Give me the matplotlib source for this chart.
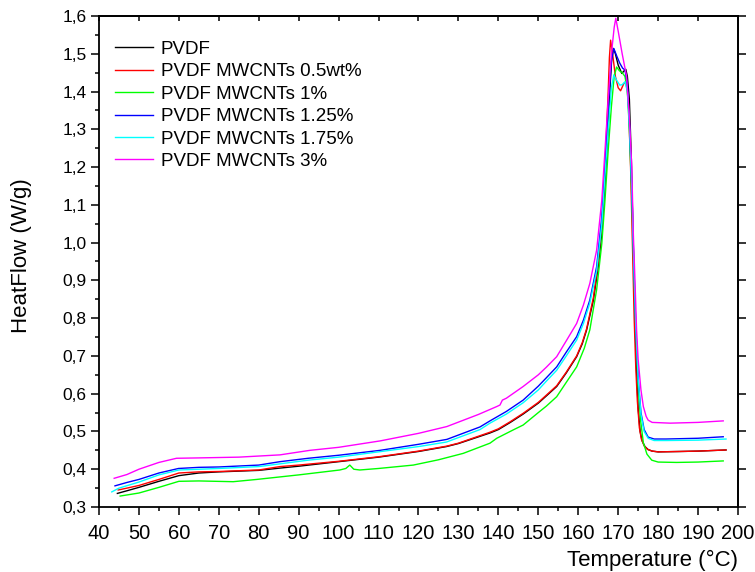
import matplotlib
matplotlib.use("Agg")
import matplotlib.pyplot as plt
from matplotlib.ticker import MultipleLocator, FuncFormatter

plt.rcParams['font.family'] = ['Liberation Sans', 'DejaVu Sans']

# DSC heating curves, temperature (C) vs heat flow (W/g)
t_pvdf = [44.6, 47, 50, 55, 60, 65, 70, 80, 85.3, 90, 100, 110, 120, 127, 130, 137.9, 140, 143, 146.2, 150,
          152, 154.6, 157, 159.6, 161, 162.1, 163.8, 165, 165.9, 166.7, 167.5, 168, 168.4, 168.8, 169.3, 170,
          170.9, 171.5, 171.9, 172.3, 172.8, 173.3, 173.8, 174.2, 174.6, 175, 175.5, 176, 176.7, 177.5,
          178.5, 180, 185.5, 190, 197]
hf_pvdf = [0.336, 0.343, 0.352, 0.368, 0.383, 0.390, 0.393, 0.397, 0.403, 0.408, 0.420, 0.432, 0.447,
           0.460, 0.468, 0.496, 0.505, 0.524, 0.546, 0.575, 0.594, 0.619, 0.655, 0.698, 0.732, 0.769, 0.848,
           0.936, 1.025, 1.157, 1.30, 1.42, 1.49, 1.514, 1.50, 1.47, 1.448, 1.455, 1.459, 1.44, 1.38, 1.22,
           0.98, 0.80, 0.66, 0.56, 0.50, 0.475, 0.46, 0.452, 0.448, 0.446, 0.447, 0.448, 0.451]

t_05 = [44.8, 47, 50, 55, 60, 65, 70, 80, 85.3, 90, 100, 110, 120, 127, 130, 137.9, 140, 143, 146.2, 150,
        152, 154.6, 157, 159.6, 161, 162.1, 163.8, 165, 165.9, 166.7, 167.5, 167.8, 168.1, 168.6, 169.3, 170,
        170.6, 171.4, 172.1, 172.6, 173.1, 173.6, 174, 174.4, 174.8, 175.3, 175.8, 176.5, 177.3, 178.5,
        180, 185.5, 190, 197]
hf_05 = [0.345, 0.350, 0.357, 0.373, 0.390, 0.393, 0.394, 0.398, 0.407, 0.411, 0.421, 0.433, 0.448,
         0.461, 0.469, 0.498, 0.507, 0.526, 0.548, 0.577, 0.596, 0.621, 0.657, 0.700, 0.735, 0.772, 0.855,
         0.950, 1.05, 1.20, 1.40, 1.49, 1.536, 1.50, 1.44, 1.41, 1.402, 1.421, 1.426, 1.36, 1.20, 0.98,
         0.80, 0.67, 0.58, 0.51, 0.48, 0.462, 0.453, 0.448, 0.446, 0.447, 0.448, 0.451]

t_1 = [45.3, 50, 55, 60, 65, 73.6, 79.5, 90, 100.3, 101.8, 102.8, 103.8, 105.3, 110, 118.7, 125, 131.2,
       137.9, 139.6, 143.7, 146.2, 150, 152, 154.6, 157, 159.6, 161.5, 162.9, 164.6, 165.9, 166.7, 167.5,
       168.3, 169, 169.6, 170.3, 171, 171.7, 172.3, 172.8, 173.4, 174, 174.5, 175, 175.6, 176.3, 177.2,
       178.4, 180, 184.6, 190, 196.3]
hf_1 = [0.329, 0.337, 0.352, 0.368, 0.369, 0.367, 0.373, 0.385, 0.398, 0.402, 0.411, 0.400, 0.398, 0.402,
        0.411, 0.425, 0.442, 0.469, 0.482, 0.504, 0.517, 0.550, 0.567, 0.592, 0.630, 0.671, 0.720, 0.769,
        0.875, 0.998, 1.113, 1.245, 1.36, 1.44, 1.465, 1.455, 1.45, 1.44, 1.40, 1.30, 1.12, 0.90, 0.75,
        0.62, 0.53, 0.47, 0.44, 0.424, 0.419, 0.418, 0.419, 0.422]

t_125 = [44, 47, 50, 55, 59.9, 65, 70, 80, 85.3, 92.4, 100, 110.4, 120, 127.1, 135.4, 137.9, 142, 146.2,
         150, 152, 154.6, 157, 159.6, 161.3, 162.9, 164.6, 165.9, 166.7, 167.5, 168.3, 168.9, 169.6, 170.4,
         171.1, 171.7, 172.3, 172.8, 173.4, 173.9, 174.4, 175, 175.7, 176.5, 177.5, 179, 182, 190, 196.3]
hf_125 = [0.356, 0.365, 0.373, 0.390, 0.402, 0.405, 0.406, 0.411, 0.420, 0.429, 0.437, 0.450, 0.466,
          0.479, 0.512, 0.528, 0.553, 0.583, 0.620, 0.642, 0.671, 0.710, 0.751, 0.795, 0.848, 0.936, 1.069,
          1.20, 1.36, 1.48, 1.514, 1.495, 1.475, 1.462, 1.457, 1.42, 1.32, 1.15, 0.95, 0.78, 0.64, 0.55,
          0.505, 0.485, 0.48, 0.48, 0.482, 0.486]

t_175 = [43.2, 45, 50, 55, 60, 70, 80, 92.4, 100, 110, 120, 127, 135.4, 137.9, 142, 146.2, 150, 152, 154.6,
         157, 159.6, 161.3, 162.9, 164.6, 165.9, 166.7, 167.5, 168.3, 168.9, 169.6, 170.4, 171, 171.7,
         172.3, 172.8, 173.4, 173.9, 174.4, 175, 175.7, 176.5, 177.5, 179, 182, 190, 197]
hf_175 = [0.340, 0.350, 0.366, 0.385, 0.398, 0.402, 0.407, 0.424, 0.432, 0.446, 0.460, 0.472, 0.505,
          0.522, 0.546, 0.576, 0.610, 0.633, 0.662, 0.700, 0.742, 0.786, 0.840, 0.925, 1.05, 1.18, 1.30,
          1.41, 1.444, 1.43, 1.417, 1.418, 1.426, 1.40, 1.31, 1.15, 0.95, 0.78, 0.64, 0.545, 0.50, 0.482,
          0.476, 0.476, 0.477, 0.480]

t_3 = [43.8, 47, 50, 55, 59.4, 65, 75, 85.3, 92.8, 100, 110.4, 120, 127.1, 135, 139.6, 140.4, 141, 142,
       146.2, 150, 152, 154.6, 157, 159.6, 161.3, 162.9, 164.6, 165.9, 166.7, 167.5, 168.3, 169, 169.4, 170,
       171, 172.1, 172.8, 173.4, 173.8, 174.2, 174.6, 175, 175.7, 176.3, 177, 177.5, 178.5, 183, 190,
       196.3]
hf_3 = [0.376, 0.386, 0.400, 0.418, 0.429, 0.430, 0.432, 0.438, 0.450, 0.458, 0.475, 0.495, 0.513, 0.545,
        0.566, 0.570, 0.583, 0.588, 0.619, 0.650, 0.670, 0.698, 0.740, 0.786, 0.835, 0.892, 0.980, 1.113,
        1.245, 1.38, 1.50, 1.57, 1.594, 1.56, 1.50, 1.44, 1.33, 1.20, 1.02, 0.90, 0.77, 0.69, 0.61,
        0.566, 0.54, 0.53, 0.524, 0.522, 0.524, 0.528]

series = [
    (t_pvdf, hf_pvdf, "#000000", "PVDF"),
    (t_05, hf_05, "#ff0000", "PVDF MWCNTs 0.5wt%"),
    (t_1, hf_1, "#00ff00", "PVDF MWCNTs 1%"),
    (t_125, hf_125, "#0000ff", "PVDF MWCNTs 1.25%"),
    (t_175, hf_175, "#00ffff", "PVDF MWCNTs 1.75%"),
    (t_3, hf_3, "#ff00ff", "PVDF MWCNTs 3%"),
]

fig = plt.figure(figsize=(7.55, 5.72), dpi=100)
ax = fig.add_axes([99 / 755, 1 - 507 / 572, 639 / 755, 491 / 572])

for t, hf, col, lab in series:
    ax.plot(t, hf, color=col, lw=1.0, label=lab)

ax.set_xlim(40, 200)
ax.set_ylim(0.3, 1.6)

comma = FuncFormatter(lambda v, p: ("%.1f" % v).replace(".", ","))
ax.xaxis.set_major_locator(MultipleLocator(10))
ax.xaxis.set_minor_locator(MultipleLocator(5))
ax.yaxis.set_major_locator(MultipleLocator(0.1))
ax.yaxis.set_minor_locator(MultipleLocator(0.05))
ax.yaxis.set_major_formatter(comma)

ax.tick_params(which="both", direction="out", top=False, right=False, width=1.1)
ax.tick_params(which="major", length=6)
ax.tick_params(which="minor", length=3)
ax.tick_params(axis="x", labelsize=14.5, pad=6.5)
ax.tick_params(axis="y", labelsize=12.5, pad=3)
for s in ax.spines.values():
    s.set_linewidth(1.3)

# mirrored axes: short inward ticks on top, outward ticks on the right
top = ax.secondary_xaxis("top")
top.xaxis.set_major_locator(MultipleLocator(10))
top.tick_params(direction="in", length=3.5, width=1.1, labeltop=False)
top.spines["top"].set_linewidth(1.3)
right = ax.secondary_yaxis("right")
right.yaxis.set_major_locator(MultipleLocator(0.1))
right.tick_params(direction="out", length=6, width=1.1, labelright=False)
right.spines["right"].set_linewidth(1.3)

ax.set_xlabel("Temperature (°C)", fontsize=16, loc="right", labelpad=5)
ax.set_ylabel("HeatFlow (W/g)", fontsize=16)
ax.yaxis.set_label_coords(-67 / 639, 0.512)

ax.legend(loc="upper left", bbox_to_anchor=(0.025, 0.95), frameon=False, fontsize=13.5,
          handlelength=2.05, handletextpad=0.38, labelspacing=0.285, borderpad=0, borderaxespad=0)

fig.savefig("out.png", dpi=100)
